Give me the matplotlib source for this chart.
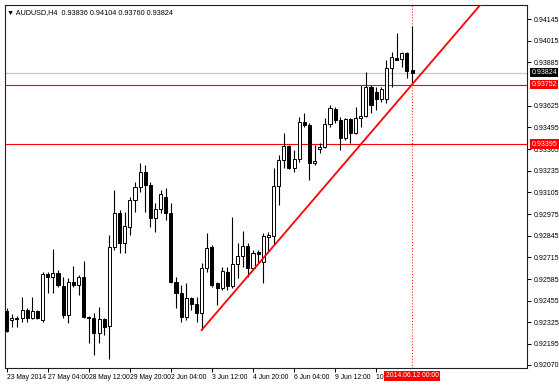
import matplotlib
matplotlib.use('Agg')
import matplotlib.pyplot as plt
import numpy as np

plt.rc('font', family='Liberation Sans', size=5)

# AUDUSD H4 candles (last bar = 2014.06.12 00:00)
opens = [0.92393, 0.92339, 0.92351, 0.92351, 0.92399, 0.92351, 0.92393, 0.92339,
         0.92615, 0.92597, 0.92621, 0.92543, 0.92369, 0.92567, 0.92549, 0.92597,
         0.92357, 0.92351, 0.92261, 0.92345, 0.92303, 0.92777, 0.92981, 0.92801,
         0.92897, 0.93059, 0.93137, 0.93227, 0.93149, 0.92951, 0.93005, 0.93077,
         0.92981, 0.92567, 0.92501, 0.92357, 0.92471, 0.92435, 0.92381, 0.92651,
         0.92777, 0.92561, 0.92531, 0.92627, 0.92543, 0.92675, 0.92723, 0.92783,
         0.92651, 0.92747, 0.92687, 0.92837, 0.92843, 0.93143, 0.93299, 0.93383,
         0.93251, 0.93305, 0.93527, 0.93509, 0.93281, 0.93365, 0.93377, 0.93515,
         0.93605, 0.93539, 0.93431, 0.93545, 0.93461, 0.93551, 0.93563, 0.93737,
         0.93707, 0.93665, 0.93665, 0.93851, 0.93911, 0.93905, 0.93941, 0.93836]
highs = [0.92411, 0.92375, 0.92363, 0.92477, 0.92411, 0.92477, 0.92399, 0.92627,
         0.92627, 0.92765, 0.92639, 0.92597, 0.92591, 0.92663, 0.92609, 0.92693,
         0.92363, 0.92381, 0.92417, 0.92351, 0.92849, 0.93119, 0.92999, 0.92987,
         0.93077, 0.93167, 0.93281, 0.93269, 0.93167, 0.93041, 0.93119, 0.93131,
         0.93041, 0.92597, 0.92549, 0.92561, 0.92477, 0.92477, 0.92681, 0.92861,
         0.92789, 0.92567, 0.92657, 0.92657, 0.92957, 0.92801, 0.92873, 0.92801,
         0.92759, 0.92759, 0.92861, 0.92867, 0.93251, 0.93329, 0.93461, 0.93389,
         0.93359, 0.93557, 0.93581, 0.93521, 0.93389, 0.93401, 0.93551, 0.93629,
         0.93617, 0.93557, 0.93551, 0.93551, 0.93617, 0.93749, 0.93827, 0.93749,
         0.93737, 0.93737, 0.93899, 0.93947, 0.94061, 0.93947, 0.93947, 0.94104]
lows = [0.92267, 0.92297, 0.92297, 0.92327, 0.92327, 0.92345, 0.92345, 0.92327,
        0.92501, 0.92501, 0.92537, 0.92351, 0.92321, 0.92537, 0.92489, 0.92351,
        0.92201, 0.92129, 0.92201, 0.92249, 0.92105, 0.92759, 0.92741, 0.92741,
        0.92849, 0.92987, 0.93107, 0.92987, 0.92897, 0.92867, 0.92981, 0.92939,
        0.92561, 0.92411, 0.92327, 0.92339, 0.92399, 0.92327, 0.92279, 0.92627,
        0.92537, 0.92429, 0.92519, 0.92519, 0.92531, 0.92591, 0.92657, 0.92597,
        0.92639, 0.92681, 0.92561, 0.92747, 0.92789, 0.93029, 0.93251, 0.93245,
        0.93227, 0.93287, 0.93497, 0.93179, 0.93269, 0.93341, 0.93371, 0.93497,
        0.93521, 0.93359, 0.93419, 0.93401, 0.93455, 0.93497, 0.93557, 0.93581,
        0.93599, 0.93647, 0.93641, 0.93737, 0.93899, 0.93857, 0.93791, 0.93760]
closes = [0.92273, 0.92351, 0.92348, 0.92399, 0.92351, 0.92393, 0.92351, 0.92615,
          0.92597, 0.92621, 0.92549, 0.92369, 0.92567, 0.92549, 0.92597, 0.92357,
          0.92351, 0.92261, 0.92345, 0.92297, 0.92777, 0.92981, 0.92801, 0.92903,
          0.93059, 0.93137, 0.93227, 0.93149, 0.92951, 0.93005, 0.93095, 0.92981,
          0.92567, 0.92501, 0.92357, 0.92471, 0.92435, 0.92381, 0.92651, 0.92771,
          0.92549, 0.92531, 0.92633, 0.92543, 0.92675, 0.92723, 0.92783, 0.92651,
          0.92741, 0.92735, 0.92843, 0.92849, 0.93143, 0.93299, 0.93383, 0.93251,
          0.93305, 0.93527, 0.93509, 0.93281, 0.93293, 0.93377, 0.93515, 0.93611,
          0.93539, 0.93431, 0.93545, 0.93461, 0.93551, 0.93563, 0.93737, 0.93629,
          0.93665, 0.93725, 0.93851, 0.93917, 0.93899, 0.93941, 0.93833, 0.93824]

time_labels = ['23 May 2014', '27 May 04:00', '28 May 12:00', '29 May 20:00',
               '2 Jun 04:00', '3 Jun 12:00', '4 Jun 20:00', '6 Jun 04:00',
               '9 Jun 12:00', '10 Jun 20:00']
label_step = 8
cursor_label = '2014.06.12 00:00'

price_ticks = [0.94145, 0.94015, 0.93885, 0.93625, 0.93495, 0.93365, 0.93235,
               0.93105, 0.92975, 0.92845, 0.92715, 0.92585, 0.92455, 0.92325,
               0.92195, 0.92070]
level_hi = 0.93752
level_lo = 0.93395
bid = 0.93824
trend_start = 38          # bar index of the swing low the trendline starts from
trend_end_price = level_hi
title = '\u25bc AUDUSD,H4  0.93836 0.94104 0.93760 0.93824'

o = np.array(opens)
h = np.array(highs)
l = np.array(lows)
c = np.array(closes)
idx = np.arange(len(o))
last = idx[-1]

fig = plt.figure(figsize=(5.59, 3.85), dpi=100)
ax = fig.add_axes([5 / 559, 1 - 368 / 385, 522 / 559, 363 / 385])

# wicks
ax.vlines(idx, l, h, color='black', linewidth=0.8, zorder=2)
# bodies
up = c >= o
body_lo = np.minimum(o, c)
body_h = np.maximum(np.abs(c - o), 0.000015)
ax.bar(idx[up], body_h[up], bottom=body_lo[up], width=0.6,
       color='white', edgecolor='black', linewidth=0.7, zorder=3)
ax.bar(idx[~up], body_h[~up], bottom=body_lo[~up], width=0.6,
       color='black', edgecolor='black', linewidth=0.7, zorder=3)

# horizontal levels and bid line
ax.axhline(bid, color='#c8c8c8', linewidth=0.9, zorder=1)
ax.axhline(level_hi, color='red', linewidth=0.8, zorder=1)
ax.axhline(level_lo, color='red', linewidth=0.8, zorder=1)

# trendline ray
slope = (trend_end_price - l[trend_start]) / (last - trend_start)
tx = np.array([trend_start, 110])
ax.plot(tx, l[trend_start] + slope * (tx - trend_start), color='red',
        linewidth=1.3, zorder=4)

# vertical cursor line
ax.axvline(last, color='red', linestyle=(0, (1, 2)), linewidth=0.7, zorder=1)

ax.set_xlim(-0.33, 101.4)
ax.set_ylim(0.92051, 0.94229)

ax.set_xticks(idx[::label_step][:len(time_labels)])
ax.set_xticklabels(time_labels, ha='left')
ax.tick_params(axis='x', direction='out', length=3, width=0.7, pad=1.5,
               labelsize=4.9, color='black')

ax.yaxis.tick_right()
ax.set_yticks(price_ticks)
ax.set_yticklabels(['%.5f' % v for v in price_ticks])
ax.tick_params(axis='y', direction='out', length=3, width=0.7, pad=2,
               labelsize=5)

for s in ax.spines.values():
    s.set_linewidth(0.8)
    s.set_color('#202020')

ytr = ax.get_yaxis_transform()
for val, bg in [(bid, 'black'), (level_hi, 'red'), (level_lo, 'red')]:
    ax.text(1.0085, val, '%.5f' % val, transform=ytr, ha='left', va='center',
            fontsize=5, color='white', zorder=10, clip_on=False,
            bbox=dict(boxstyle='square,pad=0.2', fc=bg, ec='none'))

ax.text(last, -0.022, cursor_label, transform=ax.get_xaxis_transform(),
        ha='center', va='center', fontsize=4.9, color='white', clip_on=False,
        zorder=10, bbox=dict(boxstyle='square,pad=0.2', fc='red', ec='none'))

ax.text(0.004, 0.99, title, transform=ax.transAxes, ha='left', va='top',
        fontsize=5.2, color='black')

fig.savefig('out.png', dpi=100, facecolor='white')
